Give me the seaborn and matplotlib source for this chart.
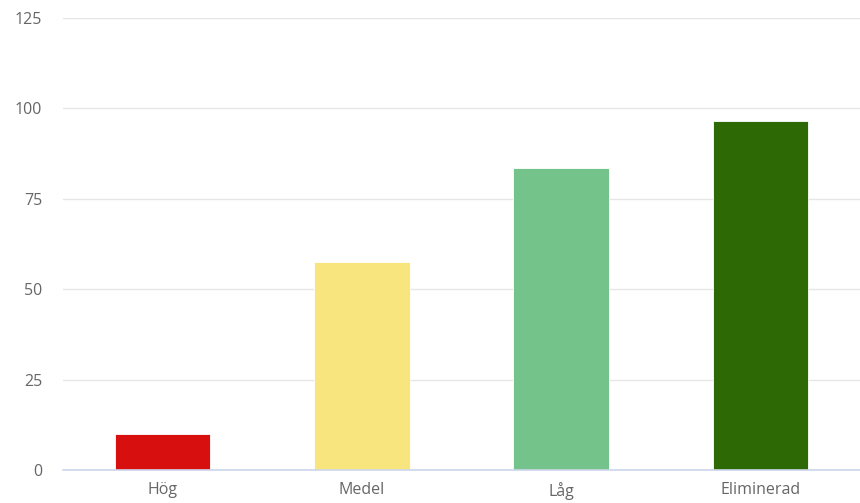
import matplotlib
matplotlib.use("Agg")
import matplotlib.pyplot as plt
import seaborn as sns
import pandas as pd

categories = ["Hög", "Medel", "Låg", "Eliminerad"]
values = [10, 57.5, 83.5, 96.5]
colors = ["#d7100f", "#f8e57d", "#74c38b", "#2d6a06"]
yticks = [0, 25, 50, 75, 100, 125]

sns.set_theme(style="white")
plt.rcParams["font.family"] = ["Open Sans", "DejaVu Sans"]

df = pd.DataFrame({"cat": categories, "val": values})
fig = plt.figure(figsize=(8.6, 5.03), dpi=100)
ax = fig.add_axes([63/860, 1-470/503, 1-63/860, (470-18)/503])

sns.barplot(data=df, x="cat", y="val", hue="cat", palette=colors, legend=False,
            width=0.48, ax=ax, saturation=1, edgecolor="white", linewidth=0.6)

ax.set_ylim(0, 125)
ax.set_xlim(-0.5, 3.5)
ax.set_yticks(yticks)
ax.set_yticklabels([str(v) for v in yticks])
ax.yaxis.grid(True, color="#e6e6e6", linewidth=1)
ax.set_axisbelow(True)
for s in ["top", "right", "left"]:
    ax.spines[s].set_visible(False)
ax.spines["bottom"].set_color("#ccd6eb")
ax.spines["bottom"].set_linewidth(1.2)
ax.set_xlabel("")
ax.set_ylabel("")
ax.tick_params(axis="both", length=0, colors="#666666", labelsize=11.5)
ax.tick_params(axis="y", pad=15)
ax.tick_params(axis="x", pad=9)

fig.savefig("out.png", dpi=100)
